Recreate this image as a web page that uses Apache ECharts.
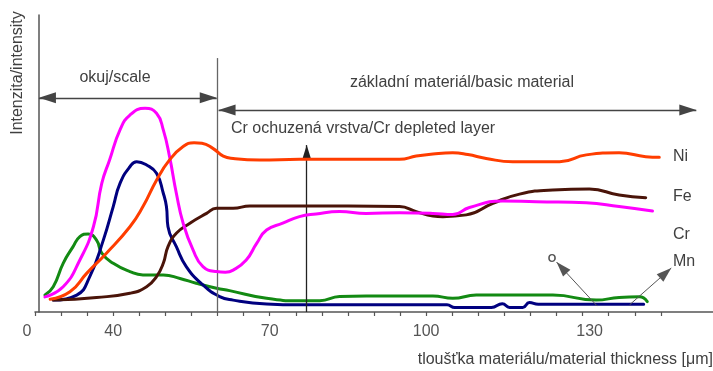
<!DOCTYPE html>
<html><head><meta charset="utf-8">
<script src="https://cdn.jsdelivr.net/npm/echarts@6/dist/echarts.min.js"></script>
<style>html,body{margin:0;padding:0;background:#fff}#c{width:713px;height:371px}</style>
</head><body><div id="c"></div>
<script>
// ---- data (x = thickness, y = relative intensity) ----
const niData = [[27.9,4.3],[31.7,6.8],[34.9,13],[38.7,19.8],[43.2,28.7],[45.7,35.5],[48.3,44.4],[50.8,51.2],[53.4,55.7],[55.5,57],[57,56.8],[59.1,55.1],[61.1,52.5],[63,51.7],[68.1,51.2],[75.7,51.4],[85,51.4],[94.9,51.4],[98.1,52.5],[101.3,53.2],[105.1,53.6],[108,53],[111.5,51.7],[116.6,50.6],[125.6,50.6],[130.7,52.9],[137,53.6],[142.1,52.3],[144.7,52.1]];
const feData = [[28.5,4],[36.8,4.9],[43.2,6.3],[46.4,8.5],[48.3,11.9],[49.6,16.4],[50.5,22],[52.1,26.5],[54.7,29.9],[57.9,33.2],[59.8,34.9],[63,34.9],[66.2,35.7],[75.7,35.7],[85,35.7],[94.9,35.5],[98.1,33.8],[101.3,32.3],[103.2,32.1],[107.7,32.7],[112.8,36.6],[117.9,39.7],[124.3,41.1],[131.3,41.4],[137,39.4],[142.1,38.5]];
const crData = [[26.9,5.1],[30.4,8.5],[33.6,17.5],[36.2,28.7],[37.8,43.3],[39.3,51.2],[41.3,61.3],[43.2,66.3],[46.1,68.6],[48.3,66.9],[49.6,61.3],[50.8,52.3],[52.1,40],[53.4,29.9],[55.3,20.9],[57.2,15.3],[59.8,13.6],[61.5,13.4],[63,14.1],[65.5,17.5],[67.5,23.1],[69.4,27.6],[72.5,29.9],[75.7,32.1],[78.9,33],[83.4,33.8],[88.5,33.2],[94.9,33.4],[101.3,33.2],[105.1,32.8],[108.3,35.2],[114.7,37.4],[121.1,37.1],[130.7,36.8],[137,35.5],[143.4,34]];
const oData = [[28.5,4],[33,5.7],[35.5,11.9],[38.1,24.2],[40,35.5],[41.3,43.3],[43.2,48.9],[44.5,50.6],[46.4,49.5],[48.3,46.7],[49.6,40],[50.2,35.5],[50.5,28.7],[52.1,22],[54,15.3],[57.2,9.1],[60.4,5.2],[63,4],[69.4,2.7],[75.7,2.4],[90,2.4],[104,2.4],[105.5,1.5],[112.5,1.5],[114.6,2.8],[116,1.5],[118.5,1.5],[119.8,3.2],[121.5,2.6],[130,2.6],[141.7,2.6]];
const mnData = [[26.9,5.7],[28.5,8.5],[30.4,16.4],[32.3,22],[33.6,25.4],[35.2,26.3],[36.8,24.2],[37.8,19.8],[40,16.4],[43.2,13.6],[45.7,12.5],[49.6,12.5],[52.8,11.3],[55.9,9.7],[59.8,8],[62.3,7.2],[69.4,4.6],[75.7,3.8],[79.6,3.8],[83.4,5.2],[88.5,5.4],[101.3,5.4],[105.1,4.6],[109.6,5.7],[124.3,5.7],[132.6,4],[137,4.9],[140.9,5.1],[142.4,3.5]];

// ---- axis ticks / labels ----
const xTickValues = [25,30,35,40,45,50,55,60,65,70,75,80,85,90,95,100,105,110,115,120,125,130,135,140,145];
const xLabelValues = [25,40,70,100,130];
const xLabelTexts = ['0','40','70','100','130'];

// ---- annotation geometry (data units) ----
const scaleArrow = [[25.75,72.1],[59.85,72.1]];
const basicArrow = [[60.2,68],[151.8,68]];
const boundaryLine = [[60,85.5],[60,0]];
const depletedArrow = [[77.1,0],[77.1,56.2]];
const oArrow = [[132.8,2],[125,16.8]];
const mnArrow = [[139,2.4],[147,14.8]];

const FONT = '"Liberation Sans", Arial, sans-serif';
const TXT = '#404040';

function seg(p, symFrom, symTo, sizeFrom, sizeTo, color, width) {
  return [
    {coord: p[0], symbol: symFrom, symbolSize: sizeFrom, symbolOffset: [0, sizeFrom ? sizeFrom[1] / 2 : 0],
     lineStyle: {color: color, width: width, type: 'solid'}},
    {coord: p[1], symbol: symTo, symbolSize: sizeTo, symbolOffset: [0, sizeTo ? sizeTo[1] / 2 : 0]}
  ];
}

function lineSeries(name, data, color, z) {
  return {name: name, type: 'line', data: data, showSymbol: false, smooth: 0.5,
    lineStyle: {color: color, width: 3, cap: 'round', join: 'round'}, itemStyle: {color: color}, z: z, silent: true};
}

const chart = echarts.init(document.getElementById('c'), null, {renderer: 'canvas'});
chart.setOption({
  animation: false,
  backgroundColor: '#fff',
  grid: {left: 35, right: 0, top: 15, bottom: 59, containLabel: false},
  xAxis: {
    type: 'value', min: 25, max: 155,
    axisLine: {show: true, lineStyle: {color: '#555', width: 1.5}},
    axisTick: {show: true, length: 4, customValues: xTickValues, lineStyle: {color: '#555', width: 1.2}},
    axisLabel: {
      show: true, customValues: xLabelValues, margin: 12, color: '#555', fontSize: 16, fontFamily: FONT,
      formatter: function (v) {
        const i = xLabelValues.indexOf(v);
        const t = i >= 0 ? xLabelTexts[i] : '';
        if (v === xLabelValues[0]) return '{z|' + t + '}';
        if (v === xLabelValues[4]) return '{r|' + t + '}';
        return t;
      },
      rich: {
        z: {padding: [0, 16, 0, 0], color: '#555', fontSize: 16, fontFamily: FONT},
        r: {padding: [0, 0, 0, 14], color: '#555', fontSize: 16, fontFamily: FONT}
      }
    },
    splitLine: {show: false}
  },
  yAxis: {
    type: 'value', min: 0, max: 100, offset: -4,
    axisLine: {show: true, lineStyle: {color: '#555', width: 1.5}},
    axisTick: {show: false}, axisLabel: {show: false}, splitLine: {show: false}
  },
  series: [
    lineSeries('Mn', mnData, '#138a13', 3),
    lineSeries('O', oData, '#00007f', 4),
    lineSeries('Fe', feData, '#4a1409', 5),
    lineSeries('Cr', crData, '#ff00ff', 6),
    lineSeries('Ni', niData, '#ff3d00', 7),
    {
      name: 'annotations', type: 'line', data: [], silent: true, z: 8,
      markLine: {
        silent: true, animation: false, label: {show: false},
        emphasis: {disabled: true},
        data: [
          seg(scaleArrow, 'triangle', 'triangle', [11, 17], [11, 17], '#444', 1.4),
          seg(basicArrow, 'triangle', 'triangle', [11, 17], [11, 17], '#444', 1.4),
          seg(boundaryLine, 'none', 'none', null, null, '#666', 1.3),
          seg(depletedArrow, 'none', 'triangle', null, [8, 13], '#222', 1.3),
          seg(oArrow, 'none', 'triangle', null, [10, 15], '#555', 1),
          seg(mnArrow, 'none', 'triangle', null, [10, 15], '#555', 1)
        ]
      }
    }
  ],
  graphic: [
    {type: 'text', x: 18, y: 73, rotation: Math.PI / 2, silent: true,
     style: {text: 'Intenzita/intensity', fill: TXT, font: '16px ' + FONT, textAlign: 'center', textVerticalAlign: 'middle'}},
    {type: 'text', x: 713, y: 360, silent: true,
     style: {text: 'tloušťka materiálu/material thickness [μm]', fill: TXT, font: '16px ' + FONT, textAlign: 'right', textVerticalAlign: 'middle'}},
    {type: 'text', x: 115, y: 78, silent: true,
     style: {text: 'okuj/scale', fill: TXT, font: '16px ' + FONT, textAlign: 'center', textVerticalAlign: 'middle'}},
    {type: 'text', x: 462, y: 83, silent: true,
     style: {text: 'základní materiál/basic material', fill: TXT, font: '16px ' + FONT, textAlign: 'center', textVerticalAlign: 'middle'}},
    {type: 'text', x: 231, y: 129, silent: true,
     style: {text: 'Cr ochuzená vrstva/Cr depleted layer', fill: TXT, font: '16px ' + FONT, textAlign: 'left', textVerticalAlign: 'middle'}},
    {type: 'text', x: 673, y: 157, silent: true,
     style: {text: 'Ni', fill: TXT, font: '16px ' + FONT, textAlign: 'left', textVerticalAlign: 'middle'}},
    {type: 'text', x: 673, y: 197, silent: true,
     style: {text: 'Fe', fill: TXT, font: '16px ' + FONT, textAlign: 'left', textVerticalAlign: 'middle'}},
    {type: 'text', x: 673, y: 235, silent: true,
     style: {text: 'Cr', fill: TXT, font: '16px ' + FONT, textAlign: 'left', textVerticalAlign: 'middle'}},
    {type: 'text', x: 673, y: 262, silent: true,
     style: {text: 'Mn', fill: TXT, font: '16px ' + FONT, textAlign: 'left', textVerticalAlign: 'middle'}},
    {type: 'text', x: 552, y: 259, silent: true,
     style: {text: 'O', fill: '#555', font: 'bold 11px ' + FONT, textAlign: 'center', textVerticalAlign: 'middle'}}
  ]
});
</script>
</body></html>
